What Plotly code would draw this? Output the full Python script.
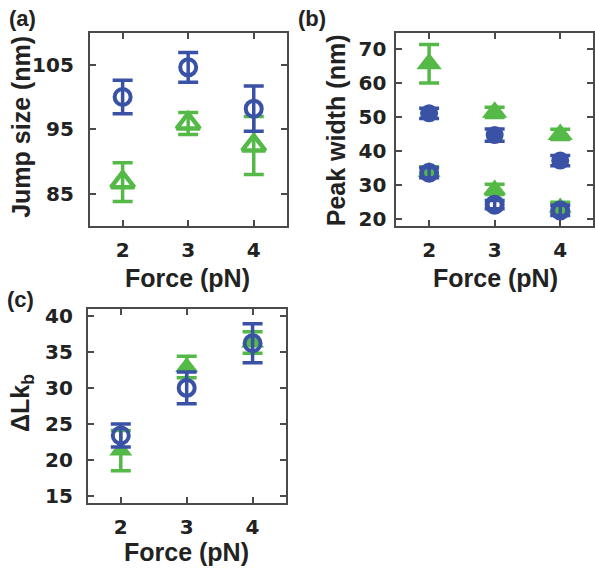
import plotly.graph_objects as go

force = [2, 3, 4]
force_labels = ["2", "3", "4"]

# (a) Jump size (nm)
jump_blue = [100.0, 104.6, 98.2]
jump_blue_err = [2.6, 2.3, 3.5]
jump_green = [86.8, 95.9, 92.5]
jump_green_err = [3.0, 1.7, 4.5]
jump_ticks = [85, 95, 105]

# (b) Peak width (nm)
pw_green_filled = [65.8, 51.5, 45.0]
pw_green_filled_err = [5.7, 1.5, 1.5]
pw_blue_filled = [51.2, 44.8, 37.3]
pw_blue_filled_err = [1.5, 1.8, 1.5]
pw_green_open = [34.0, 28.8, 23.5]
pw_green_open_err = [1.5, 1.5, 1.5]
pw_blue_open = [33.7, 24.3, 22.6]
pw_blue_open_err = [1.5, 1.2, 1.5]
pw_ticks = [20, 30, 40, 50, 60, 70]

# (c) ΔLk_b
lk_green = [21.3, 32.9, 36.3]
lk_green_err = [2.8, 1.5, 1.5]
lk_blue = [23.4, 30.0, 36.2]
lk_blue_err = [1.6, 2.2, 2.7]
lk_ticks = [15, 20, 25, 30, 35, 40]

BLUE = "#3A52A6"
GREEN = "#55B947"
AXC = "#4a4a4a"
FONT = "Liberation Sans, Arial, sans-serif"
TFONT = "DejaVu Sans, sans-serif"

fig = go.Figure()


def add(x, y, err, color, symbol, size, xa, ya, lw=3.5):
    fig.add_trace(go.Scatter(
        x=x, y=y, mode="markers", xaxis=xa, yaxis=ya,
        marker=dict(symbol=symbol, size=size, color=color,
                    line=dict(width=lw, color=color)),
        error_y=dict(type="data", array=err, color=color, thickness=3.5, width=10),
        showlegend=False, cliponaxis=False))


# (a)
add(force, jump_green, jump_green_err, GREEN, "triangle-up-open", 20, "x", "y", 4.5)
add(force, jump_blue, jump_blue_err, BLUE, "circle-open", 16, "x", "y", 4)
# (b)
add(force, pw_green_open, pw_green_open_err, GREEN, "triangle-up", 20, "x2", "y2", 0)
add(force, pw_green_filled, pw_green_filled_err, GREEN, "triangle-up", 22, "x2", "y2", 0)
add(force, pw_blue_filled, pw_blue_filled_err, BLUE, "circle", 18, "x2", "y2", 0)
add(force, pw_blue_open, pw_blue_open_err, BLUE, "circle-open", 15, "x2", "y2", 5)
# (c)
add(force, lk_green, lk_green_err, GREEN, "triangle-up", 20, "x3", "y3", 0)
add(force, lk_blue, lk_blue_err, BLUE, "circle-open", 16, "x3", "y3", 4)

W, H = 595, 574


def xd(a, b):
    return [a / W, b / W]


def yd(top, bot):
    return [1 - bot / H, 1 - top / H]


tickfont = dict(family=TFONT, size=20, color="#222", weight="bold")


def xax(dom, anchor):
    return dict(domain=dom, anchor=anchor, range=[1.5, 4.5], tickvals=force,
                ticktext=force_labels,
                ticks="inside", ticklen=6, tickwidth=2, tickcolor=AXC,
                showline=True, linecolor=AXC, linewidth=2, mirror="ticks",
                showgrid=False, zeroline=False, tickfont=tickfont,
                ticklabelstandoff=5)


def yax(dom, anchor, rng, tv, standoff):
    return dict(domain=dom, anchor=anchor, range=rng, tickvals=tv,
                ticktext=[str(v) for v in tv],
                ticks="inside", ticklen=6, tickwidth=2, tickcolor=AXC,
                showline=True, linecolor=AXC, linewidth=2, mirror="ticks",
                showgrid=False, zeroline=False, tickfont=tickfont,
                ticklabelstandoff=standoff)


fig.update_layout(
    width=W, height=H, margin=dict(l=0, r=0, t=0, b=0),
    paper_bgcolor="white", plot_bgcolor="white",
    xaxis=xax(xd(90, 287), "y"),
    yaxis=yax(yd(28, 225), "x", [80, 110], jump_ticks, 10),
    xaxis2=xax(xd(397, 594), "y2"),
    yaxis2=yax(yd(28, 225), "x2", [18, 75], pw_ticks, 4),
    xaxis3=xax(xd(88, 286), "y3"),
    yaxis3=yax(yd(309, 507), "x3", [14, 41], lk_ticks, 9),
)

tfont = dict(family=FONT, size=25, color="#222", weight="bold")
lfont = dict(family=FONT, size=22, color="#222", weight="bold")


def ann(text, x, y, font, angle=0):
    fig.add_annotation(text=text, x=x / W, y=1 - y / H, xref="paper", yref="paper",
                       showarrow=False, font=font, textangle=angle,
                       xanchor="center", yanchor="middle")


ann("(a)", 23, 14, lfont)
ann("(b)", 313, 14, lfont)
ann("(c)", 21, 300, lfont)
ann("Jump size (nm)", 21, 124, tfont, -90)
ann("Peak width (nm)", 336, 127, tfont, -90)
ann("ΔLk<sub>b</sub>", 22, 405, tfont, -90)
ann("Force (pN)", 188, 278, tfont)
ann("Force (pN)", 496, 278, tfont)
ann("Force (pN)", 187, 557, tfont)

fig.write_html("out.html")
